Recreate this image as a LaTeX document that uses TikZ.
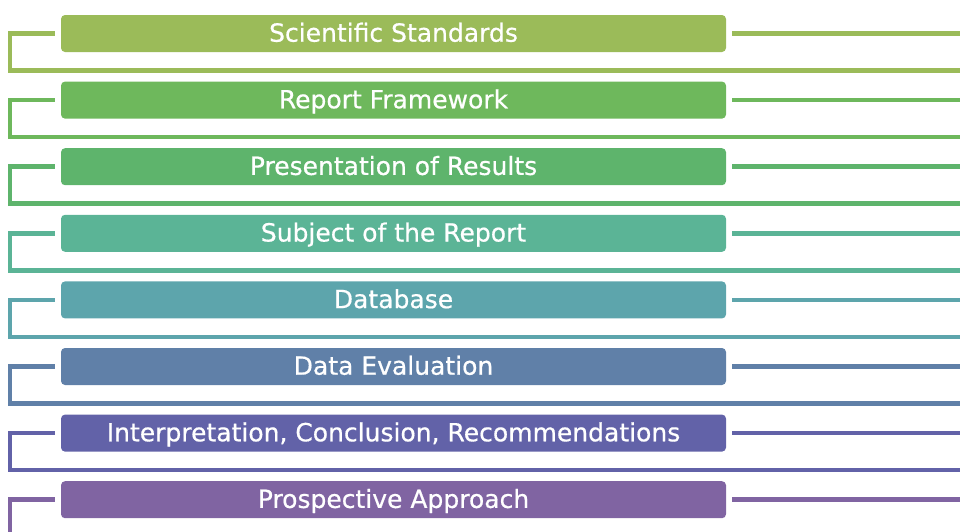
\documentclass[tikz,border=0pt]{standalone}
\usepackage{fontspec}
\newfontfamily\barfont[FakeBold=0.6]{DejaVu Sans}
\usetikzlibrary{calc}

\definecolor{stepA}{RGB}{155,187,89}
\definecolor{stepB}{RGB}{110,184,92}
\definecolor{stepC}{RGB}{94,180,108}
\definecolor{stepD}{RGB}{91,180,150}
\definecolor{stepE}{RGB}{93,165,172}
\definecolor{stepF}{RGB}{96,128,168}
\definecolor{stepG}{RGB}{98,98,168}
\definecolor{stepH}{RGB}{128,100,162}

\begin{document}
\begin{tikzpicture}[x=1pt, y=-1pt,
		barbox/.style={fill=#1, rounded corners=4pt, minimum width=665pt, minimum height=37pt,
			inner sep=0pt, text=white, text height=20pt, text depth=3.6pt,
			font=\barfont\fontsize{25}{25}\selectfont},
		link/.style={draw=#1, line width=4.5pt, line join=miter}]
	
		\pgfmathsetmacro{\pitch}{66.6}
		\pgfmathsetmacro{\gap}{6}
		
		\useasboundingbox (0, 0) rectangle (960, 531);
		\clip (0, 0) rectangle (960, 531);
		
		% draw the bars with their brackets
		\foreach \i/\col/\txt in {
				0/stepA/{Scientific Standards},
				1/stepB/{Report Framework},
				2/stepC/{Presentation of Results},
				3/stepD/{Subject of the Report},
				4/stepE/{Database},
				5/stepF/{Data Evaluation},
				6/stepG/{Interpretation, Conclusion, Recommendations},
				7/stepH/{Prospective Approach}}
		{
			\node[barbox=\col] (bar\i) at (393.5, 33.5 + \i * \pitch) {\txt};
			
			\coordinate (corner\i) at (10, 33.5 + \i * \pitch);
			\coordinate (foot\i) at (10, 70.5 + \i * \pitch);
			\coordinate (footend\i) at (960, 70.5 + \i * \pitch);
			\coordinate (tail\i) at (960, 33.5 + \i * \pitch);
			
			\draw[link=\col] ([xshift=-\gap]bar\i.west) -- (corner\i) -- (foot\i) -- (footend\i); % bracket left
			\draw[link=\col] ([xshift=\gap]bar\i.east) -- (tail\i); % line right
		}
	
	\end{tikzpicture}
\end{document}
